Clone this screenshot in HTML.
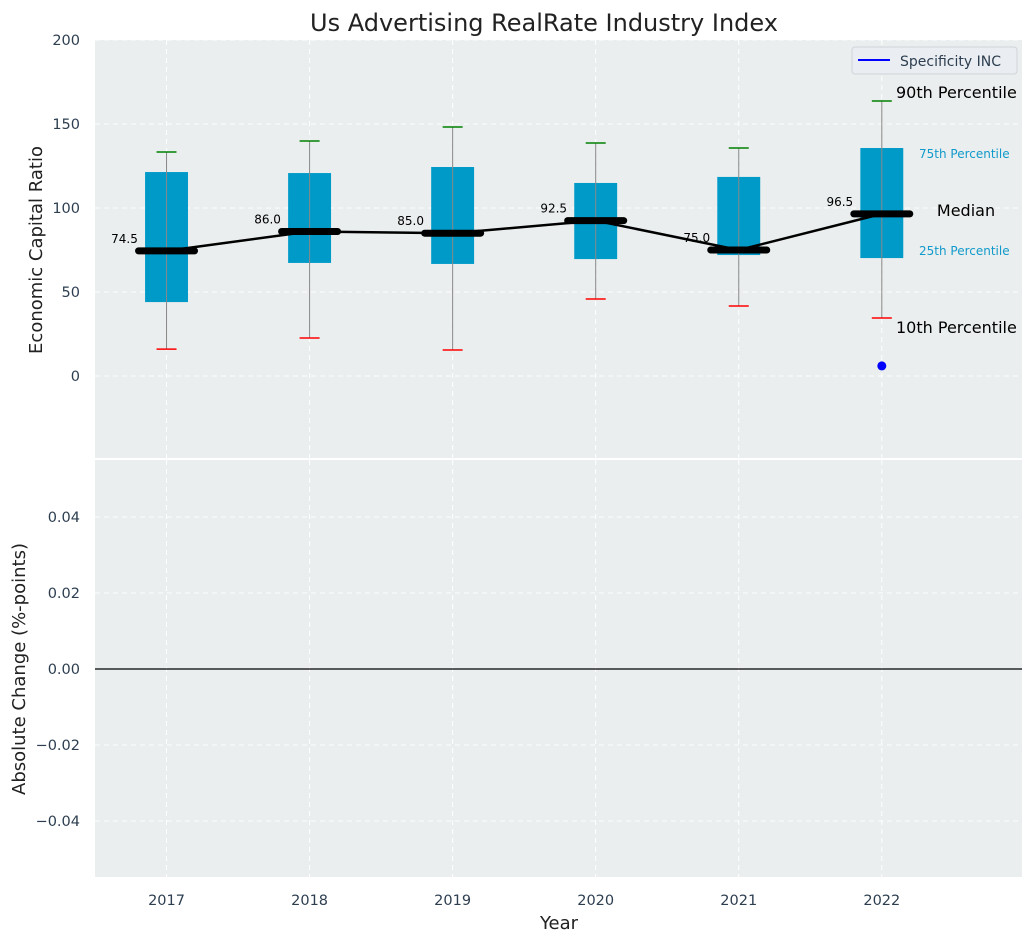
<!DOCTYPE html>
<html><head><meta charset="utf-8"><style>
body{margin:0;background:#fff;}
svg text{font-family:"DejaVu Sans","Liberation Sans",sans-serif;}
</style></head><body>
<svg id="c" width="1034" height="942" viewBox="0 0 1034 942"></svg>
<script>
const years=[2017,2018,2019,2020,2021,2022];
const p10=[16,22.6,15.5,45.8,41.7,34.5];
const q1=[44,67.3,66.7,69.6,72,70.2];
const med=[74.5,86,85,92.5,75,96.5];
const q3=[121.4,120.8,124.4,114.9,118.5,135.7];
const p90=[133.3,139.9,148.2,138.7,135.7,163.7];
const companyVal=[6];
const companyYear=[2022];
const topTicks=[0,50,100,150,200];
const botTicks=[-0.04,-0.02,0,0.02,0.04];

const NS="http://www.w3.org/2000/svg";
const svg=document.getElementById('c');
function el(t,a,txt){const e=document.createElementNS(NS,t);for(const k in a)e.setAttribute(k,a[k]);if(txt!==undefined)e.textContent=txt;svg.appendChild(e);return e;}
const L=95,R=1022;
const x=v=>L+(v-2016.5)/(2022.98-2016.5)*(R-L);
const yT=v=>376-v*1.68;
const yB=v=>669-v*3800;

let e;
e=el('rect',{x:L,y:40,width:R-L,height:418,fill:'#eaeeee'});

e=el('rect',{x:L,y:460,width:R-L,height:417,fill:'#eaeeee'});


topTicks.forEach(t=>{
 el('line',{x1:L,x2:R,y1:yT(t),y2:yT(t),stroke:'#fff','stroke-dasharray':'5,4','stroke-width':1});
 e=el('text',{x:80,y:yT(t)+5,'text-anchor':'end','font-size':14.5,fill:'#2d3e50'},String(t));
 
});
botTicks.forEach(t=>{
 el('line',{x1:L,x2:R,y1:yB(t),y2:yB(t),stroke:'#fff','stroke-dasharray':'5,4','stroke-width':1});
 const s=(t<0?'\u2212':'')+Math.abs(t).toFixed(2);
 e=el('text',{x:80,y:yB(t)+5,'text-anchor':'end','font-size':14.5,fill:'#2d3e50'},s);
 
});
years.forEach(yr=>{
 el('line',{x1:x(yr),x2:x(yr),y1:40,y2:458,stroke:'#fff','stroke-dasharray':'5,4'});
 el('line',{x1:x(yr),x2:x(yr),y1:460,y2:877,stroke:'#fff','stroke-dasharray':'5,4'});
 e=el('text',{x:x(yr),y:905,'text-anchor':'middle','font-size':14.5,fill:'#2d3e50'},String(yr));
 
});
el('line',{x1:L,x2:R,y1:yB(0),y2:yB(0),stroke:'#000','stroke-width':1.2});

const bw=(x(2017.15)-x(2016.85));
years.forEach((yr,i)=>{
 const cx=x(yr);
 e=el('rect',{x:cx-bw/2,y:yT(q3[i]),width:bw,height:yT(q1[i])-yT(q3[i]),fill:'#009ac9'});
 
 el('line',{x1:cx,x2:cx,y1:yT(p90[i]),y2:yT(p10[i]),stroke:'#888','stroke-width':1});
 e=el('line',{x1:cx-10,x2:cx+10,y1:yT(p90[i]),y2:yT(p90[i]),stroke:'green','stroke-width':1.5});
 
 e=el('line',{x1:cx-10,x2:cx+10,y1:yT(p10[i]),y2:yT(p10[i]),stroke:'red','stroke-width':1.5});
 
});
e=el('polyline',{points:years.map((yr,i)=>x(yr)+','+yT(med[i])).join(' '),fill:'none',stroke:'#000','stroke-width':2.5});

years.forEach((yr,i)=>{
 const cx=x(yr);
 e=el('line',{x1:cx-28,x2:cx+28,y1:yT(med[i]),y2:yT(med[i]),stroke:'#000','stroke-width':7,'stroke-linecap':'round'});
 
 e=el('text',{x:cx-42,y:yT(med[i])-8,'text-anchor':'middle','font-size':12,fill:'#000'},med[i].toFixed(1));
 
});
companyVal.forEach((v,i)=>{
 e=el('circle',{cx:x(companyYear[i]),cy:yT(v),r:4.5,fill:'blue'});
 
});
const li=5;
[['90th Percentile',yT(p90[li])-3,896,16,'#000','start'],['10th Percentile',yT(p10[li])+15,896,16,'#000','start'],
 ['75th Percentile',yT(q3[li])+10,919,12,'#119acb','start'],['25th Percentile',yT(q1[li])-3,919,12,'#119acb','start'],
 ['Median',yT(med[li])+2,966,16,'#000','middle']].forEach(a=>{
 e=el('text',{x:a[2],y:a[1],'font-size':a[3],fill:a[4],'text-anchor':a[5]},a[0]);
 
});
e=el('rect',{x:852,y:47,width:165,height:27,rx:3,fill:'#eaeef2',stroke:'#d0d4d8'});

el('line',{x1:858,x2:890,y1:60,y2:60,stroke:'blue','stroke-width':2});
e=el('text',{x:900,y:66,'font-size':14,fill:'#2d3e50'},'Specificity INC');


e=el('text',{x:544,y:31,'text-anchor':'middle','font-size':24,fill:'#222'},'Us Advertising RealRate Industry Index');

e=el('text',{x:42,y:250,'text-anchor':'middle','font-size':18,fill:'#222',transform:'rotate(-90 42 250)'},'Economic Capital Ratio');

e=el('text',{x:25,y:669,'text-anchor':'middle','font-size':18,fill:'#222',transform:'rotate(-90 25 669)'},'Absolute Change (%-points)');

e=el('text',{x:559,y:929,'text-anchor':'middle','font-size':18,fill:'#222'},'Year');

</script>
</body></html>
